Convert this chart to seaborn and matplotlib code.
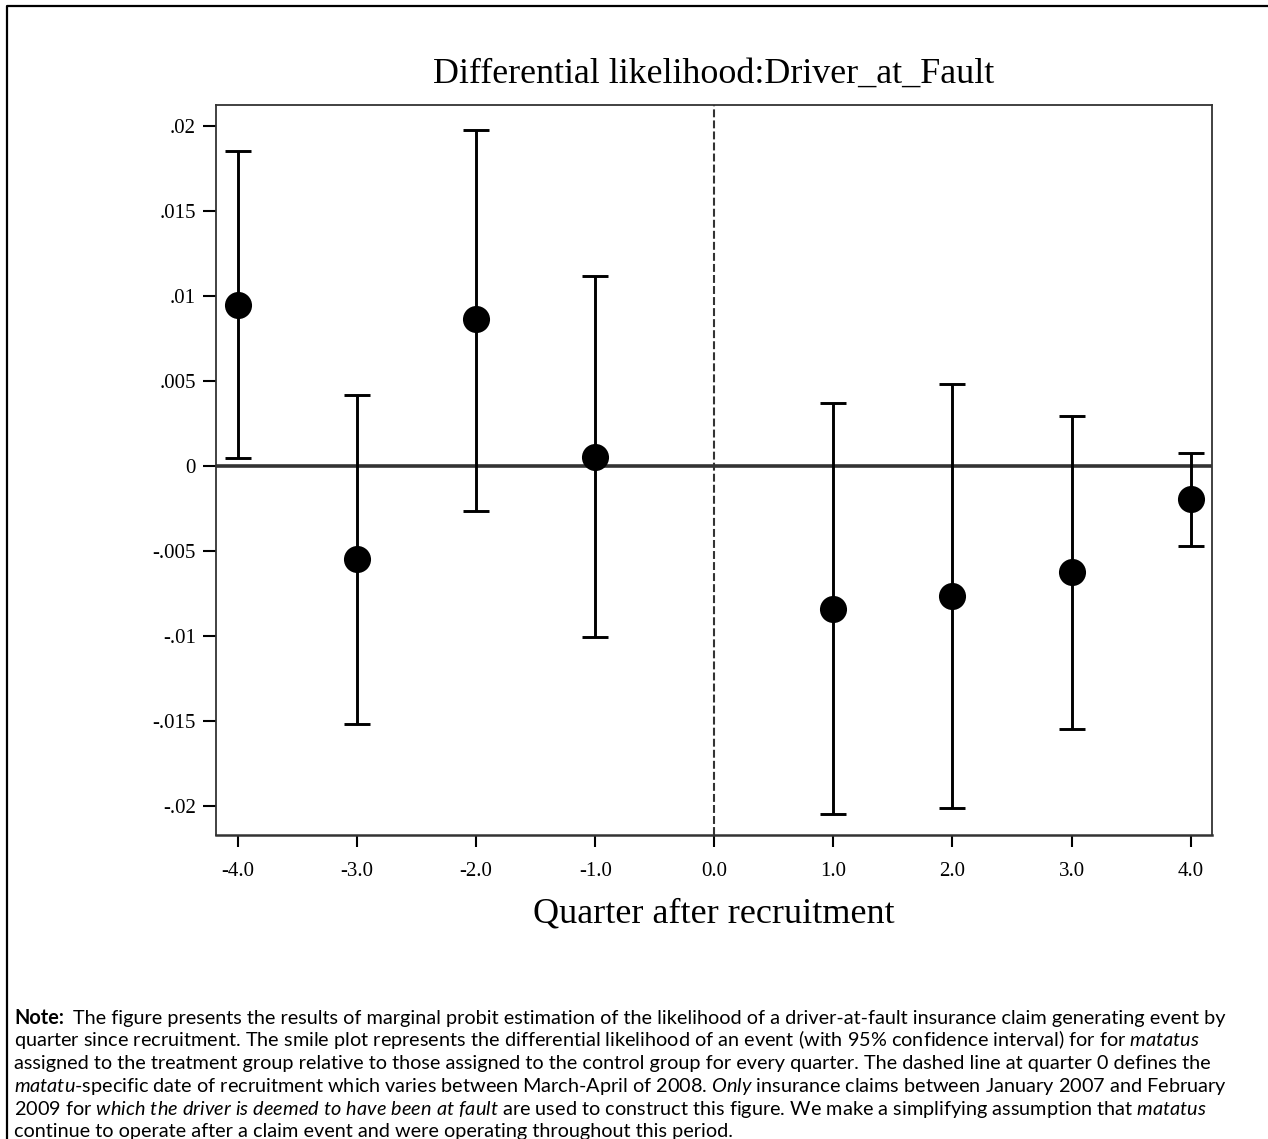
import matplotlib
matplotlib.use("Agg")
import matplotlib.pyplot as plt
from matplotlib.lines import Line2D
import seaborn as sns

# estimates (quarter 0 = recruitment, no estimate)
quarters = [-4, -3, -2, -1, 1, 2, 3, 4]
estimate = [0.00947, -0.00550, 0.00864, 0.00055, -0.00842, -0.00764, -0.00625, -0.00194]
ci_upper = [0.01853, 0.00419, 0.01980, 0.01120, 0.00369, 0.00481, 0.00297, 0.00078]
ci_lower = [0.00050, -0.01520, -0.00262, -0.01008, -0.02047, -0.02014, -0.01547, -0.00472]

x_ticks = [-4, -3, -2, -1, 0, 1, 2, 3, 4]
x_tick_labels = ["-4.0", "-3.0", "-2.0", "-1.0", "0.0", "1.0", "2.0", "3.0", "4.0"]
y_ticks = [0.02, 0.015, 0.01, 0.005, 0, -0.005, -0.01, -0.015, -0.02]
y_tick_labels = [".02", ".015", ".01", ".005", "0", "-.005", "-.01", "-.015", "-.02"]

title = "Differential likelihood:Driver_at_Fault"
xlabel = "Quarter after recruitment"
note_head = "Note:"
note_lines = [
    "The figure presents the results of marginal probit estimation of the likelihood of a driver-at-fault insurance claim generating event by",
    r"quarter since recruitment. The smile plot represents the differential likelihood of an event (with 95% confidence interval) for for $\mathit{matatus}$",
    "assigned to the treatment group relative to those assigned to the control group for every quarter. The dashed line at quarter 0 defines the",
    r"$\mathit{matatu}$-specific date of recruitment which varies between March-April of 2008. $\mathit{Only}$ insurance claims between January 2007 and February",
    r"2009 for $\mathit{which\ the\ driver\ is\ deemed\ to\ have\ been\ at\ fault}$ are used to construct this figure. We make a simplifying assumption that $\mathit{matatus}$",
    "continue to operate after a claim event and were operating throughout this period.",
]

sns.set_theme(style="ticks")
plt.rcParams["font.family"] = ["Liberation Serif", "DejaVu Serif"]
plt.rcParams["mathtext.fontset"] = "custom"
plt.rcParams["mathtext.rm"] = "Lato"
plt.rcParams["mathtext.it"] = "Lato:italic"
plt.rcParams["mathtext.bf"] = "Lato:bold"

W, H = 1268, 1139
fig = plt.figure(figsize=(W / 100, H / 100), dpi=100)
fig.patch.set_facecolor("white")
ax = fig.add_axes([216 / W, 1 - 835 / H, (1212 - 216) / W, (835 - 105) / H])

df = {"quarter": quarters, "estimate": estimate}
lo = [e - l for e, l in zip(estimate, ci_lower)]
hi = [u - e for e, u in zip(estimate, ci_upper)]

ax.axhline(0, color="#333333", lw=2.6, zorder=1)
ax.axvline(0, color="#333333", lw=1.5, ls=(0, (3.8, 1.5)), zorder=1)
ax.errorbar(quarters, estimate, yerr=[lo, hi], fmt="none", ecolor="black",
            elinewidth=2.1, capsize=9.5, capthick=2.1, zorder=2)
sns.scatterplot(x="quarter", y="estimate", data=df, ax=ax, color="black",
                s=19.5 ** 2, edgecolor="black", linewidth=0, zorder=3, legend=False)

ax.set_xlim(-4.185, 4.18)
ax.set_ylim(-0.02172, 0.02125)
ax.set_xticks(x_ticks)
ax.set_xticklabels(x_tick_labels)
ax.set_yticks(y_ticks)
ax.set_yticklabels(y_tick_labels)
ax.set_xlabel("")
ax.set_ylabel("")
ax.tick_params(axis="both", which="major", direction="out", color="black",
               width=1.5, labelsize=15, labelcolor="black", bottom=True,
               left=True, top=False, right=False)
ax.tick_params(axis="y", length=9.5, pad=5)
ax.tick_params(axis="x", length=8.5, pad=11)
for s in ax.spines.values():
    s.set_visible(True)
    s.set_color("#333333")
    s.set_linewidth(1.3)
ax.spines["bottom"].set_linewidth(1.8)
ax.set_title(title, fontsize=25.9, pad=16, color="black")

fig.text(714 / W, 1 - 922 / H, xlabel, ha="center", va="baseline",
         fontsize=26, color="black")

# note block
note_size = 14.3
baselines = [1024, 1046, 1069, 1092, 1115, 1137]
head = fig.text(14 / W, 1 - baselines[0] / H, note_head, ha="left", va="baseline",
                fontsize=note_size, family="Lato", weight="bold", color="black")
renderer = fig.canvas.get_renderer()
head_w = head.get_window_extent(renderer).width
for i, (line, yb) in enumerate(zip(note_lines, baselines)):
    x0 = 14 + head_w + 9 if i == 0 else 14
    fig.text(x0 / W, 1 - yb / H, line, ha="left", va="baseline",
             fontsize=note_size, family="Lato", color="black")

# outer frame, open on the right and bottom
fig.add_artist(Line2D([7 / W, 7 / W, 1.0], [0.0, 1 - 6 / H, 1 - 6 / H],
                      transform=fig.transFigure, color="black", lw=1.6))

fig.savefig("out.png", dpi=100, facecolor="white")
